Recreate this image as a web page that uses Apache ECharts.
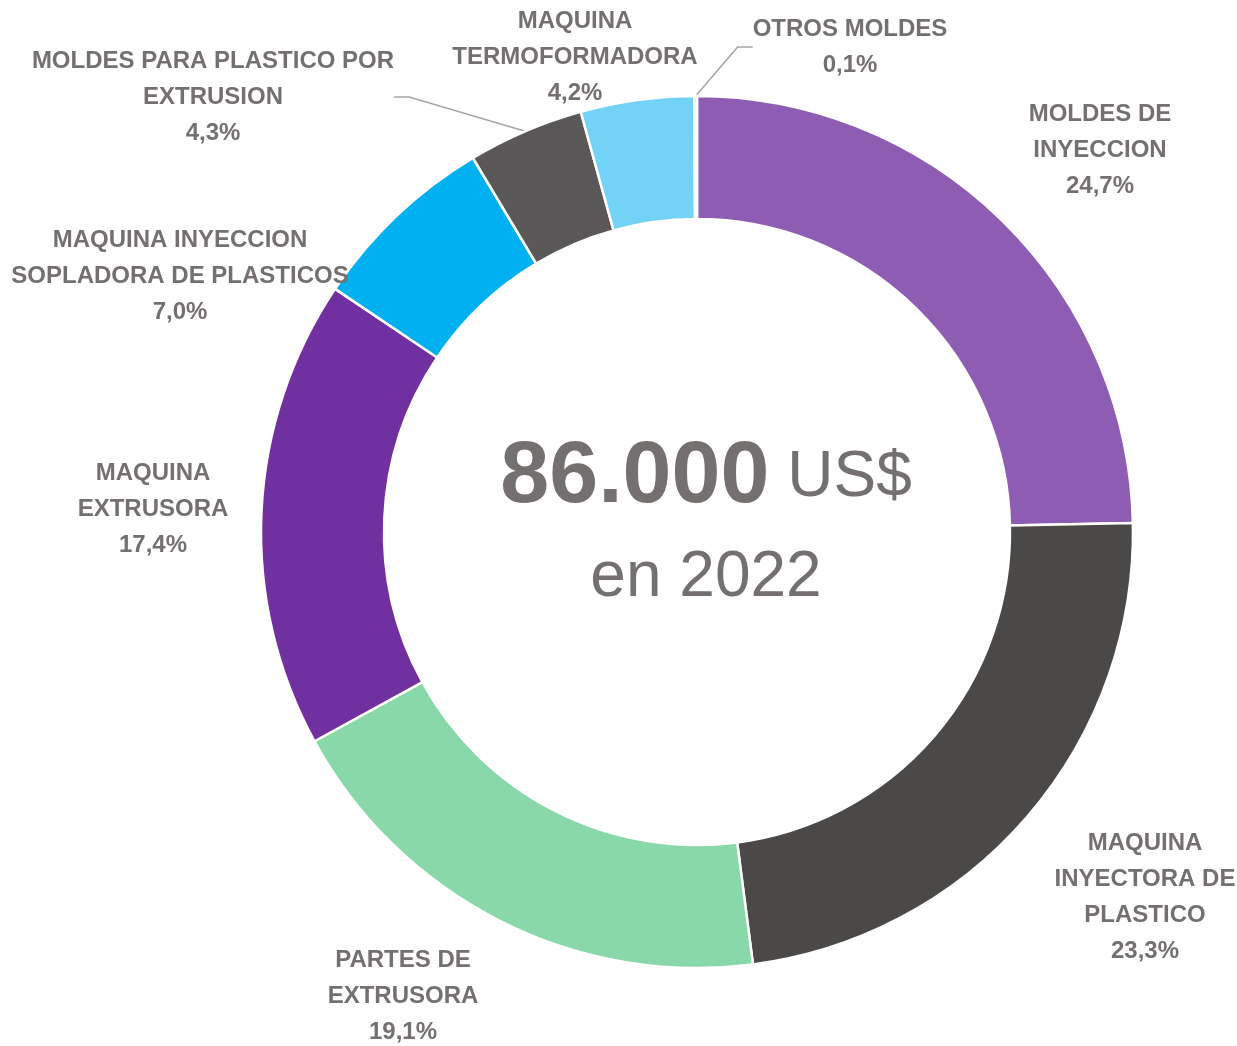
<!DOCTYPE html>
<html>
<head>
<meta charset="utf-8">
<script src="https://cdn.jsdelivr.net/npm/echarts@6/dist/echarts.min.js"></script>
<style>
  html, body { margin: 0; padding: 0; background: #fff; }
  #chart { width: 1237px; height: 1046px; }
</style>
</head>
<body>
<div id="chart"></div>
<script>
  // datos (orden horario desde las 12)
  const categories = [
    "MOLDES DE\nINYECCION",
    "MAQUINA\nINYECTORA DE\nPLASTICO",
    "PARTES DE\nEXTRUSORA",
    "MAQUINA\nEXTRUSORA",
    "MAQUINA INYECCION\nSOPLADORA DE PLASTICOS",
    "MOLDES PARA PLASTICO POR\nEXTRUSION",
    "MAQUINA\nTERMOFORMADORA",
    "OTROS MOLDES",
  ]
  const shares = [24.7, 23.3, 19.1, 17.4, 7.0, 4.3, 4.2, 0.1]
  const totalText = "86.000"
  const yearText = "en 2022"

  const colors = ["#8E5DB3", "#4A4948", "#88D8AA", "#7030A0", "#00B0F0", "#595757", "#73D3F6", "#BFBFBF"]
  // posición de cada etiqueta (centro del bloque de texto) y si lleva línea guía
  const labelSpots = [[1100, 150], [1145, 897], [403, 996], [153, 509], [180, 276], [213, 97], [575, 57], [850, 47]]
  const withLine = [false, false, false, false, false, true, false, true]

  const textColor = "#757070"

  const chart = echarts.init(document.getElementById("chart"))
  const option = {
    backgroundColor: "#fff",
    animation: false,
    graphic: [
      {
        type: "text",
        x: 706,
        y: 528,
        silent: true,
        style: {
          text: "{b|" + totalText + "}{r| US$}\n{r|" + yearText + "}",
          align: "center",
          verticalAlign: "middle",
          fill: textColor,
          rich: {
            b: { fontFamily: "Liberation Sans", fontWeight: "bold", fontSize: 88, lineHeight: 100, fill: textColor },
            r: { fontFamily: "Liberation Sans", fontSize: 64, lineHeight: 100, fill: textColor },
          },
        },
      },
    ],
    series: [
      {
        type: "pie",
        center: [697, 532],
        radius: [313, 436],
        startAngle: 90,
        clockwise: true,
        avoidLabelOverlap: false,
        itemStyle: {
          borderColor: "#fff",
          borderWidth: 2.5,
        },
        emphasis: { disabled: true },
        label: {
          show: true,
          position: "outside",
          color: textColor,
          fontFamily: "Liberation Sans",
          fontWeight: "bold",
          fontSize: 24,
          lineHeight: 36,
          align: "center",
          formatter: function (p) {
            return p.name + "\n" + shares[p.dataIndex].toFixed(1).replace(".", ",") + "%"
          },
        },
        labelLine: {
          show: true,
          length: 12,
          length2: 15,
          lineStyle: { color: "#A6A6A6", width: 1.5 },
        },
        labelLayout: function (params) {
          const spot = labelSpots[params.dataIndex]
          return { x: spot[0], y: spot[1], align: "center", verticalAlign: "middle" }
        },
        data: categories.map(function (name, i) {
          return {
            name: name,
            value: shares[i],
            itemStyle: { color: colors[i] },
            labelLine: { show: withLine[i] },
          }
        }),
      },
    ],
  }
  chart.setOption(option)
</script>
</body>
</html>
